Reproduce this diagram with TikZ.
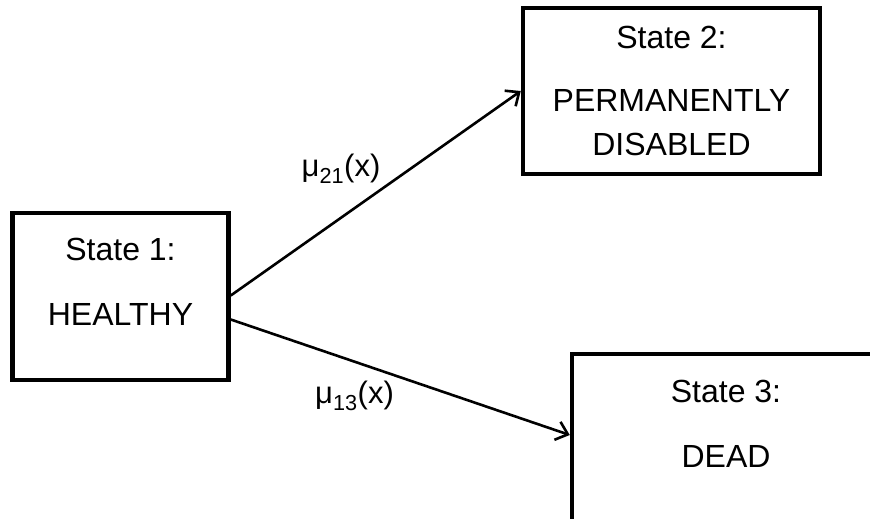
\documentclass[tikz,border=0pt]{standalone}
\usepackage{fontspec}
\setmainfont{Liberation Sans}
\usetikzlibrary{arrows.meta}

\begin{document}
\begin{tikzpicture}[x=1pt, y=-1pt,
    statebox/.style={rectangle, draw, line width=4.5pt, align=center, inner sep=0pt,
        font=\fontsize{32}{44}\selectfont},
    rate/.style={inner sep=0pt, font=\fontsize{31}{36}\selectfont},
    trans/.style={line width=2.6pt, -{Straight Barb[length=11pt, width=19pt, line width=2.6pt]}}]
                \clip (0,0) rectangle (870,519);

                \node[statebox, minimum width=216pt, minimum height=167pt, text depth=29pt] (healthy) at (120.5,296.5) {State 1:\\[21pt]HEALTHY};
                \node[statebox, minimum width=297pt, minimum height=166pt] (disabled) at (671.5,91) {State 2:\\[19pt]PERMANENTLY\\DISABLED};
                \node[statebox, minimum width=308pt, minimum height=170pt, text depth=31pt] (dead) at (726,439) {State 3:\\[21pt]DEAD};

                \draw[trans] ([yshift=1pt]healthy.east) -- (disabled.west);
                \draw[trans] ([yshift=-23pt]healthy.east) -- ([yshift=4pt]dead.west);

                \node[rate] (mu21) at (341,169) {μ\textsubscript{21}(x)};
                \node[rate] (mu13) at (354.5,396) {μ\textsubscript{13}(x)};
            \end{tikzpicture}
\end{document}
